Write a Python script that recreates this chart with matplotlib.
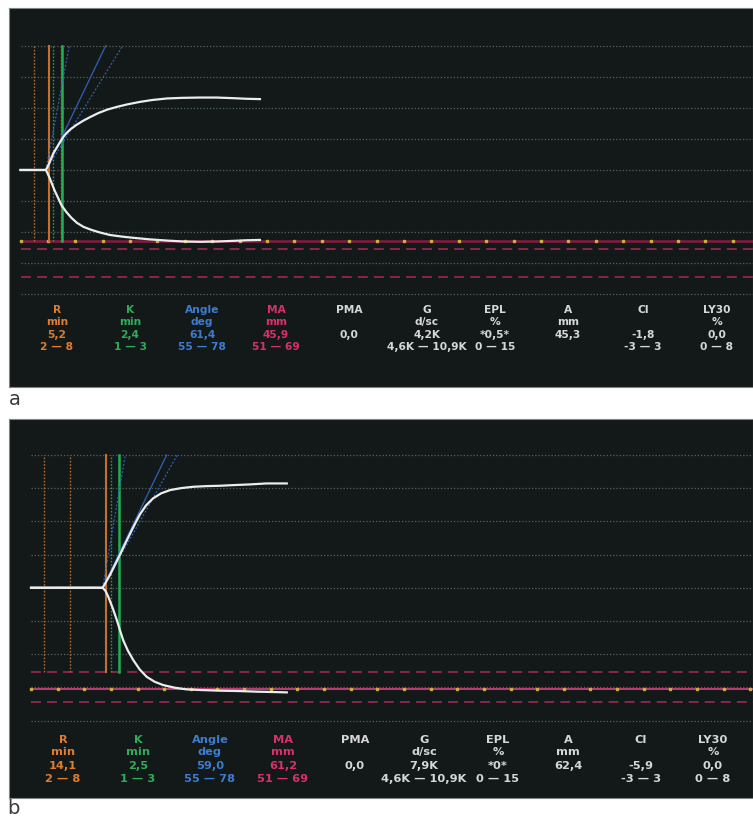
import numpy as np
import matplotlib.pyplot as plt

# TEG tracings: minutes vs. half amplitude in mm (upper and lower branch)
a_up_t = [0, 4.65, 5.2, 6.0, 7.0, 7.8, 8.4, 9.2, 10.3, 11.5, 12.8, 14.2, 15.8, 17.6,
          19.5, 21.8, 24.0, 26.7, 29.5, 32.8, 35.8, 38.8, 41.3, 43.7]
a_up_mm = [0, 0, 2.0, 5.4, 8.3, 10.6, 11.9, 13.2, 14.6, 15.9, 17.1, 18.3, 19.4, 20.3,
           21.1, 21.9, 22.5, 23.0, 23.2, 23.3, 23.3, 23.1, 22.9, 22.8]
a_lo_t = [0, 4.65, 5.3, 6.2, 7.5, 8.4, 9.3, 10.3, 11.5, 13.0, 14.5, 16.3, 18.4, 20.5,
          23.5, 26.7, 29.8, 32.8, 35.8, 38.8, 41.3, 43.7]
a_lo_mm = [0, 0, -2.5, -6.5, -11.4, -13.6, -15.4, -17.0, -18.3, -19.3, -20.1, -20.9, -21.4,
           -21.8, -22.3, -22.7, -23.0, -23.1, -23.0, -22.8, -22.6, -22.5]

b_up_t = [0, 13.45, 14.1, 14.8, 15.45, 16.1, 16.7, 17.6, 18.6, 19.5, 20.45, 21.6, 22.9,
          24.4, 26.1, 28.2, 30.5, 33.0, 35.5, 38.0, 41.0, 44.2, 48.0]
b_up_mm = [0, 0, 1.8, 3.8, 5.9, 8.0, 10.0, 13.0, 16.3, 19.2, 22.1, 24.8, 26.9,
           28.4, 29.4, 30.0, 30.4, 30.6, 30.7, 30.9, 31.1, 31.4, 31.4]
b_lo_t = [0, 13.45, 14.0, 14.5, 15.3, 16.1, 16.7, 17.3, 18.2, 19.2, 20.4, 21.7, 23.2,
          24.8, 27.0, 29.2, 32.0, 35.5, 39.0, 42.5, 45.5, 48.0]
b_lo_mm = [0, 0, -1.0, -2.7, -6.0, -9.7, -12.8, -15.8, -19.0, -21.8, -24.6, -26.8, -28.3,
           -29.3, -30.1, -30.6, -30.8, -31.0, -31.1, -31.3, -31.4, -31.5]

# markers on the time axis (minutes)
a_split, b_split = 4.65, 13.45
a_r, b_r = 5.2, 14.1
a_rk, b_rk = 7.6, 16.6
a_k_low, b_k_low = 5.9, 15.0
r_marks = [2.4, 7.4]

# angle (deg) and reference range
a_angle, b_angle = 61.4, 59.0
angle_range = [55, 78]

# MA (mm) and reference range
a_ma, b_ma = 45.9, 61.2
ma_range = [51, 69]

params = ['R', 'K', 'Angle', 'MA', 'PMA', 'G', 'EPL', 'A', 'CI', 'LY30']
units = ['min', 'min', 'deg', 'mm', '', 'd/sc', '%', 'mm', '', '%']
a_values = ['5,2', '2,4', '61,4', '45,9', '0,0', '4,2K', '*0,5*', '45,3', '-1,8', '0,0']
b_values = ['14,1', '2,5', '59,0', '61,2', '0,0', '7,9K', '*0*', '62,4', '-5,9', '0,0']
ranges = ['2 — 8', '1 — 3', '55 — 78', '51 — 69', '', '4,6K — 10,9K', '0 — 15', '', '-3 — 3', '0 — 8']

ORANGE = '#e07c30'
GREEN = '#2fac58'
BLUE = '#3d7cd0'
PINK = '#d8306c'
GREY = '#d6d8d8'
text_colors = [ORANGE, GREEN, BLUE, PINK, GREY, GREY, GREY, GREY, GREY, GREY]

BG = '#131919'


def draw_panel(ax, up_t, up_mm, lo_t, lo_mm, split, r, rk, k_low, angle, ma,
               values, xlim, ylim, col_x, row_y, fs, vbottom, ma_color, ma_lw):
    ax.set_facecolor(BG)
    ax.set_xlim(*xlim)
    ax.set_ylim(*ylim)
    ax.set_xticks([])
    ax.set_yticks([])
    for s in ax.spines.values():
        s.set_color('#7d8585')
        s.set_linewidth(0.8)

    xmax = xlim[1]
    # dotted grid every 10 mm
    for y in np.arange(-40, 41, 10):
        ax.plot([0, xmax], [y, y], color='#59615f', lw=0.9, ls=(0, (1, 1.6)), zorder=1)

    # MA reference range and measured MA
    for y in ma_range:
        ax.plot([0, xmax], [-y / 2, -y / 2], color='#a82a58', lw=1.1,
                ls=(0, (6.5, 4)), zorder=2)
    ax.plot([0, xmax], [-ma / 2, -ma / 2], color=ma_color, lw=ma_lw, zorder=2)
    ticks = np.arange(0, xmax, 5)
    ax.plot(ticks, np.full(len(ticks), -ma / 2), ls='none', marker='s', ms=1.8,
            color='#c9b23c', zorder=3)

    # R / K markers
    for t in r_marks:
        ax.plot([t, t], [vbottom, 40], color='#b06a30', lw=1.0, ls=(0, (1.2, 1.2)), zorder=3)
    ax.plot([r, r], [vbottom, 40], color='#c7702e', lw=1.5, zorder=3)
    ax.plot([k_low, k_low], [vbottom, 40], color='#1f9a68', lw=1.0, ls=(0, (1.2, 1.2)), zorder=3)
    ax.plot([rk, rk], [vbottom, 40], color='#1fb054', lw=1.8, zorder=3)

    # angle lines from the split point up to the top grid line
    for ang, ls, lw in [(angle, '-', 0.9), (angle_range[0], (0, (1.5, 1.5)), 0.9),
                        (angle_range[1], (0, (1.5, 1.5)), 0.9)]:
        slope = 2 * np.tan(np.radians(ang))
        ax.plot([split, split + 40 / slope], [0, 40], color='#2f62b8', lw=lw, ls=ls, zorder=4)

    # tracing
    ax.plot(up_t, up_mm, color='#ececec', lw=1.6, zorder=5, solid_joinstyle='round')
    ax.plot(lo_t, lo_mm, color='#ececec', lw=1.6, zorder=5, solid_joinstyle='round')

    # parameter table
    trans = ax.get_yaxis_transform()
    for i, x in enumerate(col_x):
        rows = [params[i], units[i], values[i], ranges[i]]
        for txt, y in zip(rows, row_y):
            if txt:
                ax.text(x, y, txt, transform=trans, ha='center', va='baseline',
                        fontsize=fs, fontweight='bold', color=text_colors[i], zorder=6)


fig = plt.figure(figsize=(7.53, 8.19), dpi=100, facecolor='white')
W, H = 753, 819

ax_a = fig.add_axes([9 / W, 1 - 387 / H, 744 / W, 379 / H])
ax_b = fig.add_axes([9 / W, 1 - 798 / H, 744 / W, 379 / H])

col_a = [(x - 9) / 744 for x in [57, 130, 202, 276, 349, 427, 495, 568, 643, 717]]
col_b = [(x - 9) / 744 for x in [63, 138, 210, 283, 355, 424, 498, 568, 641, 713]]

draw_panel(ax_a, a_up_t, a_up_mm, a_lo_t, a_lo_mm, a_split, a_r, a_rk, a_k_low,
           a_angle, a_ma, a_values, (-2.1, 133.7), (-69.8, 52.1), col_a,
           [-46.0, -50.0, -54.0, -57.9], 7.7, -a_ma / 2, '#7a1c3c', 2.0)
draw_panel(ax_b, b_up_t, b_up_mm, b_lo_t, b_lo_mm, b_split, b_r, b_rk, b_k_low,
           b_angle, b_ma, b_values, (-4.13, 135.5), (-63.3, 50.8), col_b,
           [-46.6, -50.5, -54.6, -58.5], 8.2, -ma_range[0] / 2, '#c8407a', 1.3)

fig.text(15 / W, 1 - 399 / H, 'a', ha='center', va='center', fontsize=14, color='#3a3a3a')
fig.text(13 / W, 1 - 809 / H, 'b', ha='center', va='center', fontsize=14, color='#3a3a3a')

fig.savefig('out.png', dpi=100, facecolor='white')
